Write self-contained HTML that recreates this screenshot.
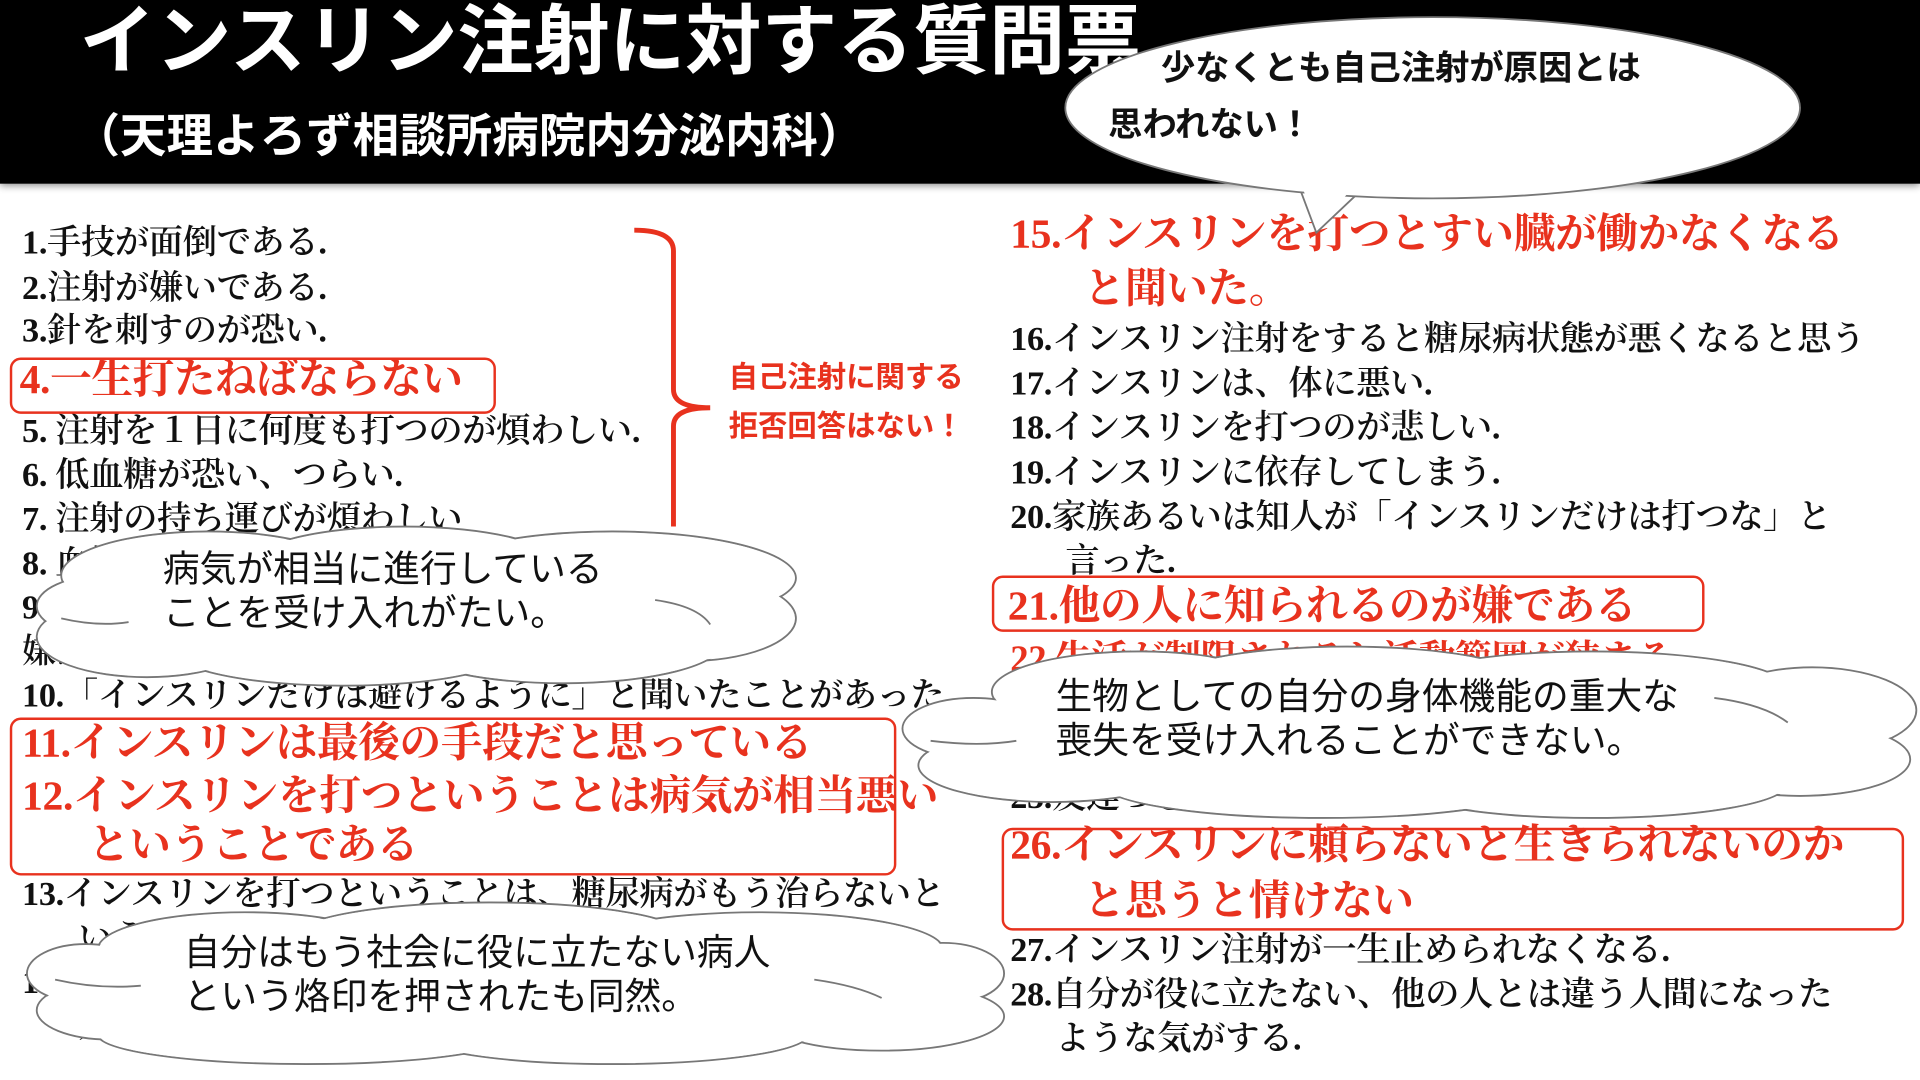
<!DOCTYPE html>
<html><head><meta charset="utf-8"><style>
html,body{margin:0;padding:0;background:#fff;overflow:hidden;width:1920px;height:1080px}
#w{position:absolute;left:0;top:0;width:1568px;height:882px;transform:scale(1.2245);transform-origin:0 0;background:#fff}
.hd{position:absolute;left:0;top:0;width:1568px;height:150px;background:#000;box-shadow:0 2px 6px #888}
.t{position:absolute;white-space:nowrap;line-height:1}
.sans{font-family:"Liberation Sans","Noto Sans CJK JP",sans-serif}
.ser{font-family:"Liberation Serif","Noto Serif CJK SC",serif;font-size:28px;color:#111;font-weight:600;letter-spacing:-0.3px}
.red{color:#e8321e;font-weight:bold}
.rb{font-size:34px}
.box{position:absolute;border:2.5px solid #e8321e;border-radius:9px}
svg{position:absolute;left:0;top:0}
</style></head><body><div id="w">
<div class="hd"></div>
<div class="t sans" style="left:65px;top:4px;font-size:62px;font-weight:bold;color:#fff">インスリン注射に対する質問票</div>
<div class="t sans" style="left:60px;top:93px;font-size:38px;font-weight:bold;color:#fff">（天理よろず相談所病院内分泌内科）</div>

<div class="t ser" style="left:18px;top:185px">1.手技が面倒である.</div>
<div class="t ser" style="left:18px;top:222px">2.注射が嫌いである.</div>
<div class="t ser" style="left:18px;top:257px">3.針を刺すのが恐い.</div>
<div class="t ser red rb" style="left:16px;top:294px">4.一生打たねばならない</div>
<div class="t ser" style="left:18px;top:339px">5. 注射を１日に何度も打つのが煩わしい.</div>
<div class="t ser" style="left:18px;top:375px">6. 低血糖が恐い、つらい.</div>
<div class="t ser" style="left:18px;top:411px">7. 注射の持ち運びが煩わしい</div>
<div class="t ser" style="left:18px;top:447px">8. 血糖自己測定が面倒である.</div>
<div class="t ser" style="left:18px;top:483px">9. 他の人の前で注射を打つ所を見られるのが</div>
<div class="t ser" style="left:18px;top:519px">嫌だ</div>
<div class="t ser" style="left:18px;top:555px">10.「インスリンだけは避けるように」と聞いたことがあった</div>
<div class="t ser red rb" style="left:18px;top:591px">11.インスリンは最後の手段だと思っている</div>
<div class="t ser red rb" style="left:18px;top:634px">12.インスリンを打つということは病気が相当悪い</div>
<div class="t ser red rb" style="left:72px;top:674px">ということである</div>
<div class="t ser" style="left:18px;top:717px">13.インスリンを打つということは、糖尿病がもう治らないと</div>
<div class="t ser" style="left:64px;top:753px">いうことである.</div>
<div class="t ser" style="left:18px;top:789px">14.インスリンを打つということは、</div>
<div class="t ser" style="left:64px;top:825px">人生の終わりだ.</div>

<div class="t sans red" style="left:595px;top:297px;font-size:24px;font-weight:bold">自己注射に関する</div>
<div class="t sans red" style="left:595px;top:337px;font-size:24px;font-weight:bold">拒否回答はない！</div>

<div class="t ser red rb" style="left:825px;top:175px">15.インスリンを打つとすい臓が働かなくなる</div>
<div class="t ser red rb" style="left:885px;top:220px">と聞いた。</div>
<div class="t ser" style="left:825px;top:264px">16.インスリン注射をすると糖尿病状態が悪くなると思う</div>
<div class="t ser" style="left:825px;top:300px">17.インスリンは、体に悪い.</div>
<div class="t ser" style="left:825px;top:336px">18.インスリンを打つのが悲しい.</div>
<div class="t ser" style="left:825px;top:373px">19.インスリンに依存してしまう.</div>
<div class="t ser" style="left:825px;top:409px">20.家族あるいは知人が「インスリンだけは打つな」と</div>
<div class="t ser" style="left:870px;top:445px">言った.</div>
<div class="t ser red rb" style="left:823px;top:479px">21.他の人に知られるのが嫌である</div>
<div class="t ser red" style="left:825px;top:524px;font-size:30px">22.生活が制限されるし活動範囲が狭まる</div>
<div class="t ser" style="left:825px;top:638px">25.友達づきあいがしにくくなる.</div>
<div class="t ser red rb" style="left:825px;top:674px">26.インスリンに頼らないと生きられないのか</div>
<div class="t ser red rb" style="left:885px;top:720px">と思うと情けない</div>
<div class="t ser" style="left:825px;top:763px">27.インスリン注射が一生止められなくなる.</div>
<div class="t ser" style="left:825px;top:799px">28.自分が役に立たない、他の人とは違う人間になった</div>
<div class="t ser" style="left:862px;top:835px">ような気がする.</div>

<div class="box" style="left:8px;top:292px;width:393px;height:42px"></div>
<div class="box" style="left:8px;top:586px;width:720px;height:125px"></div>
<div class="box" style="left:810px;top:470px;width:578px;height:42px"></div>
<div class="box" style="left:818px;top:676px;width:733px;height:80px"></div>

<svg width="1568" height="882" viewBox="0 0 1568 882">
<path d="M518 188 Q550 188 550 205 L550 318 Q550 333 580 333 Q550 333 550 348 L550 430" fill="none" stroke="#e8321e" stroke-width="4"/>
<g stroke="#777" stroke-width="1.5" fill="#fff">
<path d="M1060 150 L1075 190 L1112 155" />
<ellipse cx="1170" cy="88" rx="300" ry="74"/>
</g>
<path d="M1062 148 L1075 186 L1108 150 Z" fill="#fff"/>
<g stroke="#777" stroke-width="1.5" fill="#fff">
<ellipse cx="170" cy="470" rx="120" ry="36"/><ellipse cx="330" cy="464" rx="130" ry="34"/><ellipse cx="500" cy="472" rx="150" ry="38"/><ellipse cx="560" cy="505" rx="90" ry="35"/><ellipse cx="460" cy="525" rx="130" ry="33"/><ellipse cx="280" cy="530" rx="140" ry="30"/><ellipse cx="120" cy="520" rx="90" ry="33"/><ellipse cx="85" cy="495" rx="55" ry="25"/>
<ellipse cx="930" cy="565" rx="120" ry="33"/><ellipse cx="1100" cy="558" rx="150" ry="30"/><ellipse cx="1300" cy="562" rx="160" ry="30"/><ellipse cx="1480" cy="580" rx="85" ry="35"/><ellipse cx="1470" cy="620" rx="90" ry="30"/><ellipse cx="1300" cy="640" rx="160" ry="28"/><ellipse cx="1080" cy="640" rx="180" ry="28"/><ellipse cx="860" cy="625" rx="110" ry="30"/><ellipse cx="795" cy="595" rx="58" ry="25"/>
<ellipse cx="200" cy="775" rx="120" ry="30"/><ellipse cx="400" cy="765" rx="160" ry="28"/><ellipse cx="620" cy="775" rx="150" ry="30"/><ellipse cx="770" cy="795" rx="50" ry="25"/><ellipse cx="720" cy="830" rx="100" ry="28"/><ellipse cx="500" cy="845" rx="160" ry="24"/><ellipse cx="250" cy="845" rx="170" ry="24"/><ellipse cx="90" cy="825" rx="60" ry="24"/><ellipse cx="70" cy="795" rx="48" ry="24"/>
</g>
<g fill="#fff">
<ellipse cx="170" cy="470" rx="119" ry="35"/><ellipse cx="330" cy="464" rx="129" ry="33"/><ellipse cx="500" cy="472" rx="149" ry="37"/><ellipse cx="560" cy="505" rx="89" ry="34"/><ellipse cx="460" cy="525" rx="129" ry="32"/><ellipse cx="280" cy="530" rx="139" ry="29"/><ellipse cx="120" cy="520" rx="89" ry="32"/><ellipse cx="85" cy="495" rx="54" ry="24"/><ellipse cx="330" cy="495" rx="270" ry="50"/>
<ellipse cx="930" cy="565" rx="119" ry="32"/><ellipse cx="1100" cy="558" rx="149" ry="29"/><ellipse cx="1300" cy="562" rx="159" ry="29"/><ellipse cx="1480" cy="580" rx="84" ry="34"/><ellipse cx="1470" cy="620" rx="89" ry="29"/><ellipse cx="1300" cy="640" rx="159" ry="27"/><ellipse cx="1080" cy="640" rx="179" ry="27"/><ellipse cx="860" cy="625" rx="109" ry="29"/><ellipse cx="795" cy="595" rx="57" ry="24"/><ellipse cx="1150" cy="600" rx="370" ry="50"/>
<ellipse cx="200" cy="775" rx="119" ry="29"/><ellipse cx="400" cy="765" rx="159" ry="27"/><ellipse cx="620" cy="775" rx="149" ry="29"/><ellipse cx="770" cy="795" rx="49" ry="24"/><ellipse cx="720" cy="830" rx="99" ry="27"/><ellipse cx="500" cy="845" rx="159" ry="23"/><ellipse cx="250" cy="845" rx="169" ry="23"/><ellipse cx="90" cy="825" rx="59" ry="23"/><ellipse cx="70" cy="795" rx="47" ry="23"/><ellipse cx="420" cy="805" rx="360" ry="50"/>
</g>
<g fill="none" stroke="#777" stroke-width="1.5">
<path d="M50 505 Q80 512 105 508"/><path d="M535 490 Q570 495 580 510"/>
<path d="M760 605 Q800 610 830 605"/><path d="M1400 570 Q1440 575 1460 590"/>
<path d="M45 800 Q80 808 115 805"/><path d="M665 800 Q700 805 720 815"/>
</g>
</svg>
<div class="t sans" style="left:948px;top:42px;font-size:28px;font-weight:bold;color:#111">少なくとも自己注射が原因とは</div>
<div class="t sans" style="left:905px;top:88px;font-size:28px;font-weight:bold;color:#111">思われない！</div>
<div class="t sans" style="left:133px;top:451px;font-size:30px;color:#111">病気が相当に進行している</div>
<div class="t sans" style="left:133px;top:487px;font-size:30px;color:#111">ことを受け入れがたい。</div>
<div class="t sans" style="left:862px;top:555px;font-size:30px;color:#111">生物としての自分の身体機能の重大な</div>
<div class="t sans" style="left:862px;top:591px;font-size:30px;color:#111">喪失を受け入れることができない。</div>
<div class="t sans" style="left:150px;top:764px;font-size:30px;color:#111">自分はもう社会に役に立たない病人</div>
<div class="t sans" style="left:150px;top:800px;font-size:30px;color:#111">という烙印を押されたも同然。</div>
</div></body></html>
